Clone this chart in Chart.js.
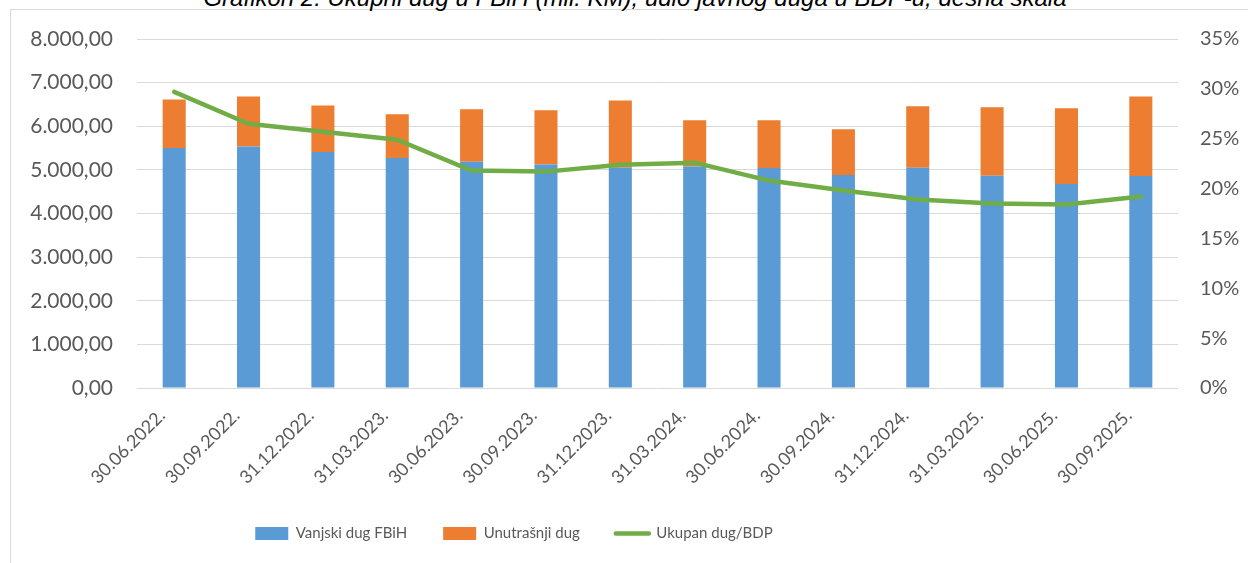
<!DOCTYPE html>
<html>
<head>
<meta charset="utf-8">
<script src="https://cdn.jsdelivr.net/npm/chart.js@4.4.1/dist/chart.umd.min.js"></script>
<style>
  html, body { margin: 0; padding: 0; background: #fff; overflow: hidden; }
  body { width: 1248px; height: 563px; position: relative; }
  #frame { position: absolute; left: 10px; top: 9px; width: 1300px; height: 600px;
           border-left: 1px solid #d9d9d9; border-top: 1px solid #d9d9d9; }
  #title { position: absolute; left: 0; width: 1270px; top: -14px; text-align: center;
           font: italic 24px "Liberation Sans", Arial, sans-serif; line-height: 24px; color: #000; }
  #wrap { position: absolute; left: 0; top: 0; width: 1248px; height: 551px; }
</style>
</head>
<body>
<div id="frame"></div>
<div id="title">Grafikon 2: Ukupni dug u FBiH (mil. KM), udio javnog duga u BDP-u, desna skala</div>
<div id="wrap"><canvas id="debtChart"></canvas></div>
<script>
// podaci ocitani sa grafikona
const labels = ['30.06.2022.', '30.09.2022.', '31.12.2022.', '31.03.2023.', '30.06.2023.', '30.09.2023.',
  '31.12.2023.', '31.03.2024.', '30.06.2024.', '30.09.2024.', '31.12.2024.', '31.03.2025.',
  '30.06.2025.', '30.09.2025.'];
const vanjskiDug = [5502, 5533, 5410, 5272, 5188, 5126, 5050, 5080, 5042, 4881, 5050, 4866, 4674, 4858];
const unutrasnjiDug = [1112, 1150, 1066, 1004, 1203, 1242, 1540, 1058, 1096, 1050, 1410, 1571, 1740, 1825];
const dugBdp = [29.7, 26.5, 25.7, 24.9, 21.8, 21.7, 22.4, 22.6, 20.8, 19.8, 18.9, 18.5, 18.4, 19.2];

const fontFamily = 'Lato, "Open Sans", sans-serif';
const textColor = '#595959';
const gridColor = '#d9d9d9';

function formatKM(v) {
    // 8000 -> 8.000,00
    let s = Math.round(v).toString().replace(/\B(?=(\d{3})+(?!\d))/g, '.');
    return s + ',00';
}

// legenda je u originalu pomaknuta ulijevo
const legendShift = {
    id: 'legendShift',
    afterLayout(chart) {
        const lg = chart.legend;
        if (lg) {
            lg.left -= 110;
            lg.right -= 110;
        }
    }
};

const ctx = document.getElementById('debtChart').getContext('2d');
const chart = new Chart(ctx, {
    type: 'bar',
    data: {
        labels: labels,
        datasets: [
            {
                type: 'line',
                label: 'Ukupan dug/BDP',
                data: dugBdp,
                yAxisID: 'y1',
                borderColor: '#70ad47',
                backgroundColor: '#70ad47',
                borderWidth: 4.5,
                borderCapStyle: 'round',
                borderJoinStyle: 'round',
                pointRadius: 0,
                tension: 0,
                order: 0
            },
            {
                label: 'Vanjski dug FBiH',
                data: vanjskiDug,
                backgroundColor: '#5b9bd5',
                yAxisID: 'y',
                stack: 'dug',
                order: 1
            },
            {
                label: 'Unutrašnji dug',
                data: unutrasnjiDug,
                backgroundColor: '#ed7d31',
                yAxisID: 'y',
                stack: 'dug',
                order: 1
            }
        ]
    },
    plugins: [legendShift],
    options: {
        responsive: true,
        maintainAspectRatio: false,
        animation: false,
        layout: { padding: { top: 39, left: 0, right: 0, bottom: 0 } },
        datasets: {
            bar: { categoryPercentage: 1, barPercentage: 0.31 }
        },
        scales: {
            x: {
                stacked: true,
                grid: { display: false },
                border: { display: false },
                ticks: {
                    color: textColor,
                    font: { family: fontFamily, size: 18 },
                    minRotation: 45,
                    maxRotation: 45,
                    autoSkip: false,
                    padding: 9,
                    labelOffset: -12
                },
                afterFit: (scale) => { scale.height = 102; }
            },
            y: {
                stacked: true,
                position: 'left',
                min: 0,
                max: 8000,
                grid: { color: gridColor, lineWidth: 1, drawTicks: false },
                border: { display: false },
                ticks: {
                    stepSize: 1000,
                    color: textColor,
                    font: { family: fontFamily, size: 21 },
                    padding: 24,
                    callback: (v) => formatKM(v)
                },
                afterFit: (scale) => { scale.width = 137; }
            },
            y1: {
                position: 'right',
                min: 0,
                max: 35,
                grid: { display: false, drawTicks: false },
                border: { display: false },
                ticks: {
                    stepSize: 5,
                    color: textColor,
                    font: { family: fontFamily, size: 20 },
                    padding: 22,
                    callback: (v) => v + '%'
                },
                afterFit: (scale) => { scale.width = 70; }
            }
        },
        plugins: {
            tooltip: { enabled: false },
            legend: {
                position: 'bottom',
                labels: {
                    color: textColor,
                    font: { family: fontFamily, size: 15 },
                    usePointStyle: true,
                    pointStyleWidth: 33,
                    boxHeight: 13,
                    padding: 36,
                    generateLabels: (ch) => {
                        const order = [1, 2, 0];
                        return order.map((i) => {
                            const ds = ch.data.datasets[i];
                            const isLine = ds.type === 'line';
                            return {
                                text: ds.label,
                                datasetIndex: i,
                                fillStyle: ds.backgroundColor,
                                strokeStyle: isLine ? ds.borderColor : ds.backgroundColor,
                                lineWidth: isLine ? 4.5 : 0,
                                lineCap: 'round',
                                pointStyle: isLine ? 'line' : 'rect',
                                fontColor: textColor,
                                hidden: false
                            };
                        });
                    }
                }
            }
        }
    }
});
</script>
</body>
</html>
